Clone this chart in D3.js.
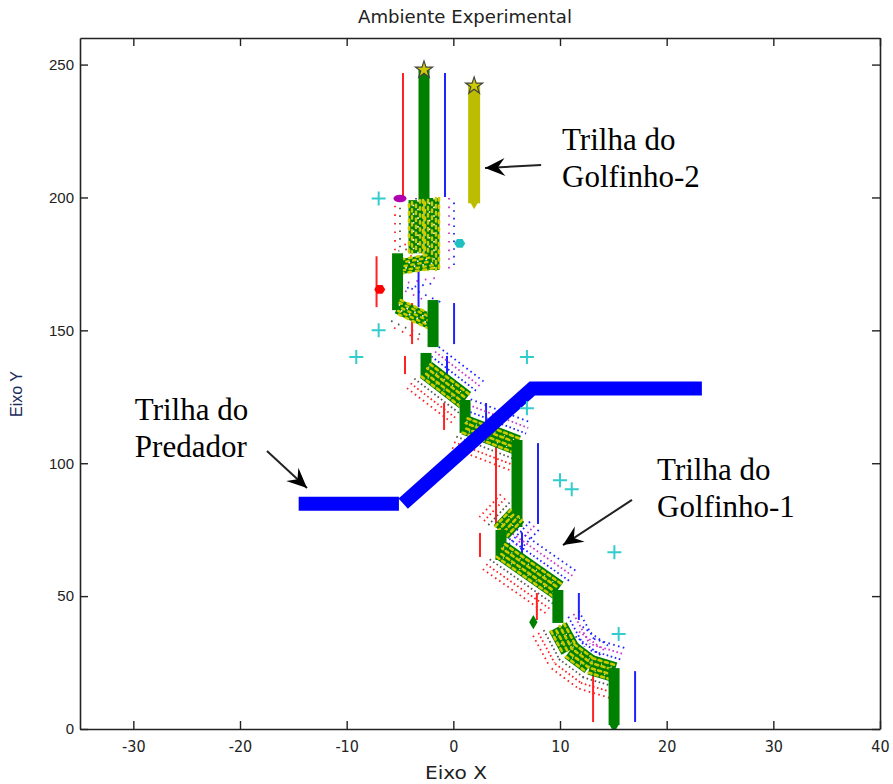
<!DOCTYPE html>
<html><head><meta charset="utf-8">
<script src="https://cdn.jsdelivr.net/npm/d3@7"></script>
<style>body{margin:0;background:#fff;} svg{display:block;}</style>
</head><body><svg id="c" width="893" height="784"></svg>
<script>
// ---------------- data ----------------
const xTicks = [-30, -20, -10, 0, 10, 20, 30, 40];
const yTicks = [0, 50, 100, 150, 200, 250];

// predator track (two legs)
const predatorLeg1 = [[-14.5, 84.8], [-5.1, 84.8]];
const predatorLeg2 = [[-4.7, 84.8], [7.4, 128.1], [23.3, 128.1]];

// dolphin-2 track
const dolphin2X = [1.95, 1.95];
const dolphin2Y = [197.8, 242];

// dolphin-1 track pieces [x1, y1, x2, y2, kind]
// kind: v = straight column, d = diagonal band, m = mixed cluster
const dolphin1Pieces = [
  [-2.75, 248, -2.75, 199, "v"],
  [-3.5, 199, -3.5, 179, "m"],
  [-2.0, 199.8, -2.0, 172.7, "m"],
  [-2.0, 176, -4.9, 174, "m"],
  [-5.23, 179, -5.23, 157.6, "v"],
  [-5.2, 159, -2.0, 153, "m"],
  [-1.9, 161.4, -1.9, 143.7, "v"],
  [-2.56, 141.5, -2.56, 132.4, "v"],
  [-2.56, 135.1, 1.1, 123.8, "d"],
  [1.1, 123.8, 1.1, 111.4, "v"],
  [1.1, 114.4, 6.0, 106.8, "d"],
  [5.97, 108.7, 5.97, 76.0, "v"],
  [5.97, 80.5, 4.47, 74.1, "d"],
  [4.47, 74.9, 4.47, 63.6, "v"],
  [4.47, 67.3, 9.8, 52.3, "d"],
  [9.8, 52.3, 9.8, 39.9, "v"],
  [9.8, 38.4, 10.97, 29.7, "d"],
  [10.97, 29.7, 12.85, 24.1, "d"],
  [12.85, 24.1, 15.1, 21.4, "d"],
  [15.07, 22.9, 15.07, 1.5, "v"]
];
const dolphin1Top = [-2.75, 248];
const dolphin1Bottom = [15.07, 0.8];

// start markers
const startNames = ["magenta", "red", "cyan", "green"];
const startX = [-5.0, -6.9, 0.6, 7.5];
const startY = [199.6, 165.4, 182.7, 40.2];

// cyan "+" markers
const plusX = [-7.0, -7.0, -9.1, 6.9, 6.9, 10.0, 11.1, 15.1, 15.5];
const plusY = [199.6, 150.0, 140.0, 140.0, 120.7, 93.6, 90.2, 66.5, 35.7];

// annotations (data coordinates)
const noteLines = [["Trilha do", "Golfinho-2"], ["Trilha do", "Predador"], ["Trilha do", "Golfinho-1"]];
const noteX = [10.19, -29.86, 19.1];
const noteY = [217.8, 116.3, 93.7];
const arrowFrom = [[8.23, 212.2], [-17.47, 104.6], [16.75, 86.2]];
const arrowTo = [[2.97, 211.1], [-13.72, 90.7], [10.28, 69.2]];

// ---------------- drawing ----------------
const svg = d3.select("#c");
const L = 80, R = 880, T = 38, B = 729;
const x = d3.scaleLinear().domain([-35, 40]).range([L, R]);
const y = d3.scaleLinear().domain([0, 260]).range([B, T]);

const GREEN = "#008000", OLIVE = "#bdbd00", YEL = "#cccc00";
const RED = "#ff2222", BLUE = "#2222ff", MAG = "#cc33cc", BLK = "#555";

const defs = svg.append("defs");
defs.append("clipPath").attr("id", "clip").append("rect")
  .attr("x", L).attr("y", T).attr("width", R - L).attr("height", B - T);
defs.append("marker").attr("id", "ah").attr("viewBox", "-22 -11 24 22")
  .attr("refX", 0).attr("refY", 0).attr("markerWidth", 24).attr("markerHeight", 22)
  .attr("markerUnits", "userSpaceOnUse").attr("orient", "auto")
  .append("path").attr("d", "M0,0 L-20,-9 L-13,0 L-20,9 Z").attr("fill", "#000");

const plot = svg.append("g").attr("clip-path", "url(#clip)");

function pix(p) { return [x(p[0]), y(p[1])]; }
function offsetSeg(a, b, off) {
  const dx = b[0] - a[0], dy = b[1] - a[1];
  const len = Math.hypot(dx, dy) || 1;
  const nx = -dy / len, ny = dx / len;
  return [[a[0] + nx * off, a[1] + ny * off], [b[0] + nx * off, b[1] + ny * off]];
}
function trim(a, b, t) {
  const dx = b[0] - a[0], dy = b[1] - a[1];
  const len = Math.hypot(dx, dy) || 1;
  return [[a[0] + dx / len * t, a[1] + dy / len * t], [b[0] - dx / len * t, b[1] - dy / len * t]];
}
function seg(g, s, stroke, w, dash, cap) {
  return g.append("line").attr("x1", s[0][0]).attr("y1", s[0][1]).attr("x2", s[1][0]).attr("y2", s[1][1])
    .attr("stroke", stroke).attr("stroke-width", w)
    .attr("stroke-dasharray", dash || null).attr("stroke-linecap", cap || "butt");
}

// sensor traces
const sensors = plot.append("g");
dolphin1Pieces.forEach(p => {
  let a = pix([p[0], p[1]]), b = pix([p[2], p[3]]);
  if (a[1] > b[1]) { const t = a; a = b; b = t; }
  if (p[4] === "v") {
    const [ta, tb] = trim(a, b, 3);
    seg(sensors, offsetSeg(ta, tb, 21), RED, 2);
    seg(sensors, offsetSeg(ta, tb, -21), BLUE, 2);
  } else if (p[4] === "d") {
    const ext = 4;
    const dx = b[0] - a[0], dy = b[1] - a[1], len = Math.hypot(dx, dy) || 1;
    const ea = [a[0] - dx / len * ext, a[1] - dy / len * ext];
    const eb = [b[0] + dx / len * ext, b[1] + dy / len * ext];
    seg(sensors, offsetSeg(ea, eb, 14), BLK, 1.8, "1.6,2.6");
    seg(sensors, offsetSeg(ea, eb, 20), RED, 1.8, "1.6,2.6");
    seg(sensors, offsetSeg(ea, eb, 26), RED, 1.8, "1.6,3.4");
    seg(sensors, offsetSeg(ea, eb, -14), BLUE, 1.8, "1.6,2.6");
    seg(sensors, offsetSeg(ea, eb, -20), MAG, 1.8, "1.6,2.6");
    seg(sensors, offsetSeg(ea, eb, -26), BLUE, 1.8, "1.6,3.4");
  } else {
    seg(sensors, offsetSeg(a, b, 16), BLK, 1.8, "1.6,6");
    seg(sensors, offsetSeg(a, b, 21), RED, 1.8, "1.6,7").attr("stroke-dashoffset", 3);
    seg(sensors, offsetSeg(a, b, -17), MAG, 1.8, "1.6,7");
    seg(sensors, offsetSeg(a, b, -22), BLUE, 1.8, "1.6,6").attr("stroke-dashoffset", 3);
  }
});

// dolphin-1 track
const track = plot.append("g");
dolphin1Pieces.forEach(p => {
  let a = pix([p[0], p[1]]), b = pix([p[2], p[3]]);
  if (a[1] > b[1]) { const t = a; a = b; b = t; }
  if (p[4] === "v") {
    seg(track, [a, b], GREEN, 11);
  } else if (p[4] === "d") {
    seg(track, [a, b], GREEN, 20);
    [-7, -2, 3, 8].forEach((o, i) => seg(track, offsetSeg(a, b, o), YEL, 2.6, "3,3.5", "round").attr("stroke-dashoffset", i * 2));
    [-4, 5].forEach((o, i) => seg(track, offsetSeg(a, b, o), "#fff", 1.2, "1,9").attr("stroke-dashoffset", i * 4));
  } else {
    seg(track, [a, b], GREEN, 15);
    [-7, 7].forEach((o, i) => seg(track, offsetSeg(a, b, o), YEL, 2.6, "2.5,5", "round").attr("stroke-dashoffset", i * 3));
    [-4, 0, 4].forEach((o, i) => seg(track, offsetSeg(a, b, o), YEL, 2.4, "2.5,4.5", "round").attr("stroke-dashoffset", i * 2.5));
    [-2, 2.5].forEach((o, i) => seg(track, offsetSeg(a, b, o), "#fff", 1.6, "1.6,7").attr("stroke-dashoffset", i * 4));
  }
});

// predator track
const pLine = d3.line().x(d => x(d[0])).y(d => y(d[1]));
[predatorLeg1, predatorLeg2].forEach(leg => {
  plot.append("path").attr("d", pLine(leg)).attr("fill", "none")
    .attr("stroke", "#0000ff").attr("stroke-width", 14).attr("stroke-linejoin", "miter");
});

// dolphin-2 track
plot.append("line").attr("x1", x(dolphin2X[0])).attr("y1", y(dolphin2Y[0]))
  .attr("x2", x(dolphin2X[1])).attr("y2", y(dolphin2Y[1]))
  .attr("stroke", OLIVE).attr("stroke-width", 12);

// end markers (triangles at bottom, stars at top)
const tri = d3.symbol().type(d3.symbolTriangle).size(45);
plot.append("path").attr("d", tri()).attr("fill", OLIVE)
  .attr("transform", `translate(${x(dolphin2X[0])},${y(dolphin2Y[0])}) rotate(180)`);
plot.append("path").attr("d", tri()).attr("fill", GREEN)
  .attr("transform", `translate(${x(dolphin1Bottom[0])},${y(dolphin1Bottom[1])}) rotate(180)`);
const star = d3.symbol().type(d3.symbolStar).size(90);
[[dolphin1Top[0], dolphin1Top[1]], [dolphin2X[1], dolphin2Y[1]]].forEach(s => {
  plot.append("path").attr("d", star()).attr("fill", YEL).attr("stroke", "#444").attr("stroke-width", 1.2)
    .attr("transform", `translate(${x(s[0])},${y(s[1])})`);
});

// start markers
const startColor = { magenta: "#b000b0", red: "#ff0000", cyan: "#20c0c0", green: GREEN };
startNames.forEach((n, i) => {
  const cx = x(startX[i]), cy = y(startY[i]);
  if (n === "magenta") {
    plot.append("ellipse").attr("cx", cx).attr("cy", cy).attr("rx", 6.5).attr("ry", 3.8).attr("fill", startColor[n]);
  } else if (n === "green") {
    plot.append("path").attr("d", d3.symbol().type(d3.symbolDiamond).size(60)()).attr("fill", startColor[n])
      .attr("transform", `translate(${cx},${cy})`);
  } else {
    const hex = d3.range(6).map(k => [cx + 5.5 * Math.cos(k * Math.PI / 3), cy + 5 * Math.sin(k * Math.PI / 3)]);
    plot.append("polygon").attr("points", hex.map(p => p.join(",")).join(" ")).attr("fill", startColor[n]);
  }
});

// cyan plus markers
plusX.forEach((px, i) => {
  const cx = x(px), cy = y(plusY[i]);
  plot.append("path").attr("d", `M${cx - 7},${cy}H${cx + 7}M${cx},${cy - 7}V${cy + 7}`)
    .attr("stroke", "#33cccc").attr("stroke-width", 2).attr("fill", "none");
});

// ---------------- axes ----------------
const tickFont = "'Liberation Sans', Arial, sans-serif";
const condFont = "'DejaVu Sans Condensed','Liberation Sans Narrow',Arial,sans-serif";
const axB = svg.append("g").attr("transform", `translate(0,${B})`)
  .call(d3.axisBottom(x).tickValues(xTicks).tickSizeInner(-8).tickSizeOuter(0).tickPadding(9).tickFormat(d3.format("d")));
const axT = svg.append("g").attr("transform", `translate(0,${T})`)
  .call(d3.axisTop(x).tickValues(xTicks).tickSizeInner(-8).tickSizeOuter(0).tickFormat(""));
const axL = svg.append("g").attr("transform", `translate(${L},0)`)
  .call(d3.axisLeft(y).tickValues(yTicks).tickSizeInner(-8).tickSizeOuter(0).tickPadding(6));
const axR = svg.append("g").attr("transform", `translate(${R},0)`)
  .call(d3.axisRight(y).tickValues(yTicks).tickSizeInner(-8).tickSizeOuter(0).tickFormat(""));
[axB, axT, axL, axR].forEach(g => {
  g.selectAll("path.domain").attr("stroke", "#222").attr("stroke-width", 1.6);
  g.selectAll(".tick line").attr("stroke", "#222").attr("stroke-width", 1.4);
  g.selectAll(".tick text").attr("fill", "#222").style("font-family", tickFont).style("font-size", "15px");
});
axB.selectAll(".tick text").text(d => d < 0 ? "-" + Math.abs(d) : d).attr("dy", "0.85em")
  .style("font-family", condFont).style("font-size", "16px");

// titles
svg.append("text").attr("x", 465).attr("y", 23).attr("text-anchor", "middle")
  .style("font-family", condFont).style("font-size", "18px")
  .attr("textLength", 214).attr("lengthAdjust", "spacingAndGlyphs")
  .attr("fill", "#222").text("Ambiente Experimental");
svg.append("text").attr("x", 456).attr("y", 779).attr("text-anchor", "middle")
  .style("font-family", condFont).style("font-size", "18px")
  .attr("textLength", 62).attr("lengthAdjust", "spacingAndGlyphs")
  .attr("fill", "#222").text("Eixo X");
svg.append("text").attr("transform", "translate(22,394) rotate(-90)").attr("text-anchor", "middle")
  .style("font-family", tickFont).style("font-size", "16px")
  .attr("fill", "#1a2a5a").text("Eixo Y");

// annotations
noteLines.forEach((lines, i) => {
  const t = svg.append("text").attr("x", x(noteX[i])).attr("y", y(noteY[i]))
    .style("font-family", "'Liberation Serif','Times New Roman',serif").style("font-size", "31px").attr("fill", "#000");
  lines.forEach((ln, k) => t.append("tspan").attr("x", x(noteX[i])).attr("dy", k === 0 ? 0 : 37).text(ln));
});
arrowFrom.forEach((f, i) => {
  svg.append("line").attr("x1", x(f[0])).attr("y1", y(f[1])).attr("x2", x(arrowTo[i][0])).attr("y2", y(arrowTo[i][1]))
    .attr("stroke", "#222").attr("stroke-width", 2).attr("marker-end", "url(#ah)");
});
</script></body></html>
